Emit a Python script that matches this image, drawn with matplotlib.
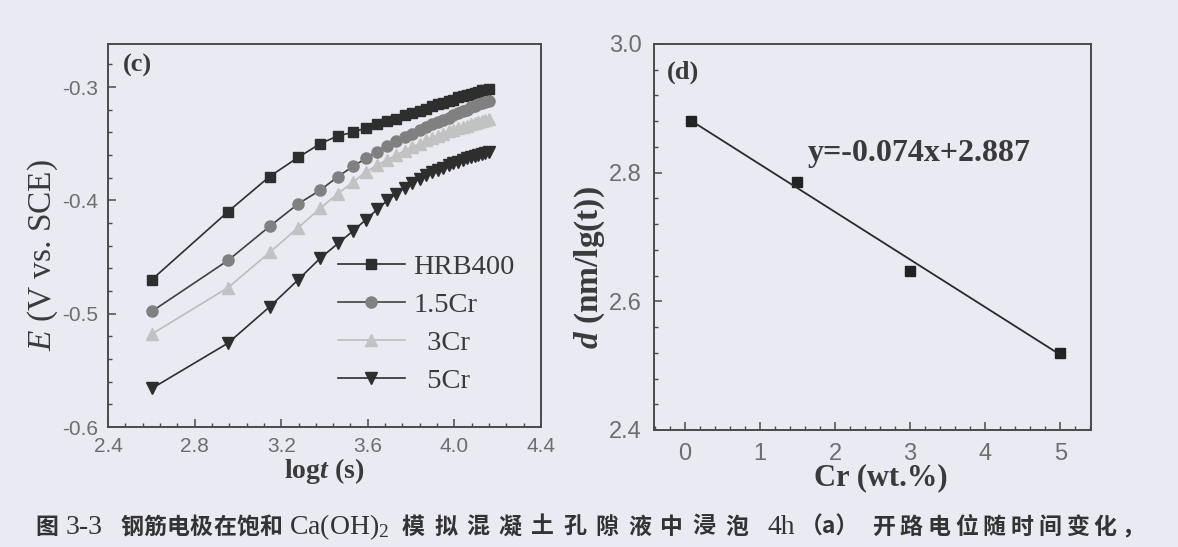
import matplotlib
matplotlib.use("Agg")
import matplotlib.pyplot as plt
import numpy as np
from matplotlib.ticker import MultipleLocator, AutoMinorLocator, FormatStrFormatter

plt.rcParams["font.family"] = ["Liberation Sans", "DejaVu Sans"]
plt.rcParams["axes.unicode_minus"] = False
plt.rcParams["mathtext.fontset"] = "custom"
plt.rcParams["mathtext.rm"] = "Liberation Serif"
plt.rcParams["mathtext.it"] = "Liberation Serif:italic"
plt.rcParams["mathtext.bf"] = "Liberation Serif:bold"
plt.rcParams["mathtext.bfit"] = "Liberation Serif:italic:bold"

# ---- (c) open circuit potential, sampled every 500 s up to 4 h ----
time_s = [400, 900, 1400, 1900, 2400, 2900, 3400, 3900, 4400, 4900,
          5400, 5900, 6400, 6900, 7400, 7900, 8400, 8900, 9400, 9900,
          10400, 10900, 11400, 11900, 12400, 12900, 13400, 13900, 14400]

e_hrb400 = [-0.470, -0.410, -0.379, -0.362, -0.350, -0.343, -0.340, -0.336, -0.333, -0.330,
            -0.328, -0.325, -0.323, -0.321, -0.319, -0.317, -0.315, -0.314, -0.312, -0.311,
            -0.309, -0.308, -0.307, -0.306, -0.305, -0.304, -0.303, -0.303, -0.302]
e_15cr = [-0.498, -0.453, -0.423, -0.403, -0.391, -0.379, -0.370, -0.363, -0.357, -0.352,
          -0.348, -0.344, -0.341, -0.338, -0.335, -0.333, -0.331, -0.329, -0.327, -0.325,
          -0.323, -0.321, -0.320, -0.318, -0.317, -0.315, -0.314, -0.313, -0.312]
e_3cr = [-0.518, -0.477, -0.446, -0.424, -0.407, -0.394, -0.384, -0.375, -0.369, -0.364,
         -0.360, -0.356, -0.353, -0.350, -0.347, -0.345, -0.343, -0.341, -0.339, -0.338,
         -0.336, -0.335, -0.334, -0.333, -0.332, -0.331, -0.330, -0.329, -0.328]
e_5cr = [-0.566, -0.526, -0.494, -0.470, -0.451, -0.438, -0.427, -0.417, -0.408, -0.400,
         -0.394, -0.389, -0.385, -0.381, -0.378, -0.375, -0.373, -0.371, -0.369, -0.367,
         -0.366, -0.364, -0.363, -0.362, -0.361, -0.360, -0.359, -0.358, -0.357]
labels_c = ["HRB400", "1.5Cr", "  3Cr", "  5Cr"]

# ---- (d) d vs Cr content ----
cr_wt = [0.08, 1.5, 3.0, 5.0]
d_val = [2.881, 2.785, 2.647, 2.520]
fit_slope = -0.074
fit_icept = 2.887

BG = "#e9eaf2"
INK = "#3a3a3a"
W, H = 1178, 547

fig = plt.figure(figsize=(11.78, 5.47), dpi=100, facecolor=BG)
ax1 = fig.add_axes([108 / W, 1 - 427 / H, 433 / W, 383 / H])
ax2 = fig.add_axes([654 / W, 1 - 430 / H, 437 / W, 386 / H])


def style_axes(ax, size, pad):
    ax.set_facecolor(BG)
    for s in ax.spines.values():
        s.set_color("#4a4a4a")
        s.set_linewidth(1.4)
    ax.tick_params(which="both", direction="in", color="#4a4a4a", top=False, right=False)
    ax.tick_params(which="major", length=6, width=1.1, labelsize=size,
                   labelcolor="#6e6e6e", pad=pad)
    ax.tick_params(which="minor", length=3, width=1.0)


# panel (c)
logt = np.log10(time_s)
styles = [("s", "#2e2e2e", "#2e2e2e", 7.5),
          ("o", "#808080", "#404040", 8),
          ("^", "#c2c2c2", "#bdbdbd", 8.5),
          ("v", "#2e2e2e", "#2e2e2e", 8.5)]
for e, lab, (mk, mc, lc, ms) in zip([e_hrb400, e_15cr, e_3cr, e_5cr], labels_c, styles):
    ax1.plot(logt, e, color=lc, lw=1.2, marker=mk, ms=ms, mfc=mc, mec=mc, label=lab)

ax1.set_xlim(2.4, 4.4)
ax1.set_ylim(-0.6, -0.262)
ax1.xaxis.set_major_locator(MultipleLocator(0.4))
ax1.xaxis.set_minor_locator(AutoMinorLocator(5))
ax1.yaxis.set_major_locator(MultipleLocator(0.1))
ax1.yaxis.set_minor_locator(AutoMinorLocator(5))
ax1.xaxis.set_major_formatter(FormatStrFormatter("%.1f"))
ax1.yaxis.set_major_formatter(FormatStrFormatter("%.1f"))
style_axes(ax1, 15, 7)
ax1.set_xlabel(r"log$\mathbfit{t}$ (s)", fontfamily="Liberation Serif", fontweight="bold",
               fontsize=20, color=INK)
ax1.xaxis.set_label_coords(0.5, -0.077)
ax1.set_ylabel(r"$E$ (V vs. SCE)", fontfamily="Liberation Serif", fontsize=24, color=INK)
ax1.yaxis.set_label_coords(-0.112, 0.45)

ax1.legend(loc="upper left", bbox_to_anchor=(338 / W, 1 - 254 / H), bbox_transform=fig.transFigure,
           frameon=False, prop=dict(family="Liberation Serif", size=20.5), handlelength=2.35,
           handletextpad=0.3, labelspacing=0.42, borderpad=0, borderaxespad=0,
           labelcolor=INK)
fig.text(123 / W, 1 - 65 / H, "(c)", fontfamily="Liberation Serif", fontweight="bold",
         fontsize=19, color=INK, va="center")

# panel (d)
ax2.plot(cr_wt, d_val, ls="none", marker="s", ms=7.5, color="#222222")
fit_x = np.array([cr_wt[0], cr_wt[-1] + 0.05])
ax2.plot(fit_x, fit_slope * fit_x + fit_icept, color="#2a2a2a", lw=1.3)
ax2.set_xlim(-0.41, 5.41)
ax2.set_ylim(2.4, 3.0)
ax2.xaxis.set_major_locator(MultipleLocator(1))
ax2.xaxis.set_minor_locator(AutoMinorLocator(5))
ax2.yaxis.set_major_locator(MultipleLocator(0.2))
ax2.yaxis.set_minor_locator(AutoMinorLocator(5))
ax2.xaxis.set_major_formatter(FormatStrFormatter("%d"))
ax2.yaxis.set_major_formatter(FormatStrFormatter("%.1f"))
style_axes(ax2, 17, 9)
ax2.set_xlabel("Cr (wt.%)", fontfamily="Liberation Serif", fontweight="bold",
               fontsize=22, color=INK)
ax2.xaxis.set_label_coords(0.52, -0.086)
ax2.set_ylabel(r"$\mathbfit{d}$ (nm/lg(t))", fontfamily="Liberation Serif", fontweight="bold",
               fontsize=24, color=INK)
ax2.yaxis.set_label_coords(-0.108, 0.42)
fig.text(667 / W, 1 - 72 / H, "(d)", fontfamily="Liberation Serif", fontweight="bold",
         fontsize=19, color=INK, va="center")
fig.text(808 / W, 1 - 153 / H, f"y={fit_slope:.3f}x+{fit_icept:.3f}",
         fontfamily="Liberation Serif", fontweight="bold", fontsize=23, color=INK, va="center")

# caption, pieces placed the way the scanned page spreads them
cap_y = 1 - 527 / H
cjk = dict(fontfamily=["Noto Sans CJK SC", "Liberation Serif"], fontweight="bold",
           fontsize=16.5, color="#333333", va="center")
lat = dict(fontfamily="Liberation Serif", fontsize=20, color="#333333", va="center")


def spread(txt, x0, pitch):
    for i, ch in enumerate(txt):
        fig.text((x0 + i * pitch) / W, cap_y, ch, **cjk)


spread("图", 35, 0)
fig.text(66 / W, cap_y, "3-3", **lat)
spread("钢筋电极在饱和", 120, 23.3)
fig.text(289 / W, cap_y, "Ca(OH)$_2$", **lat)
spread("模拟混凝土孔隙液中浸泡", 402, 32.3)
fig.text(768 / W, cap_y, "4h", **lat)
fig.text(800 / W, cap_y, "（a）", **cjk)
spread("开路电位随时间变化，", 872, 27.7)

fig.savefig("out.png", dpi=100, facecolor=BG)
